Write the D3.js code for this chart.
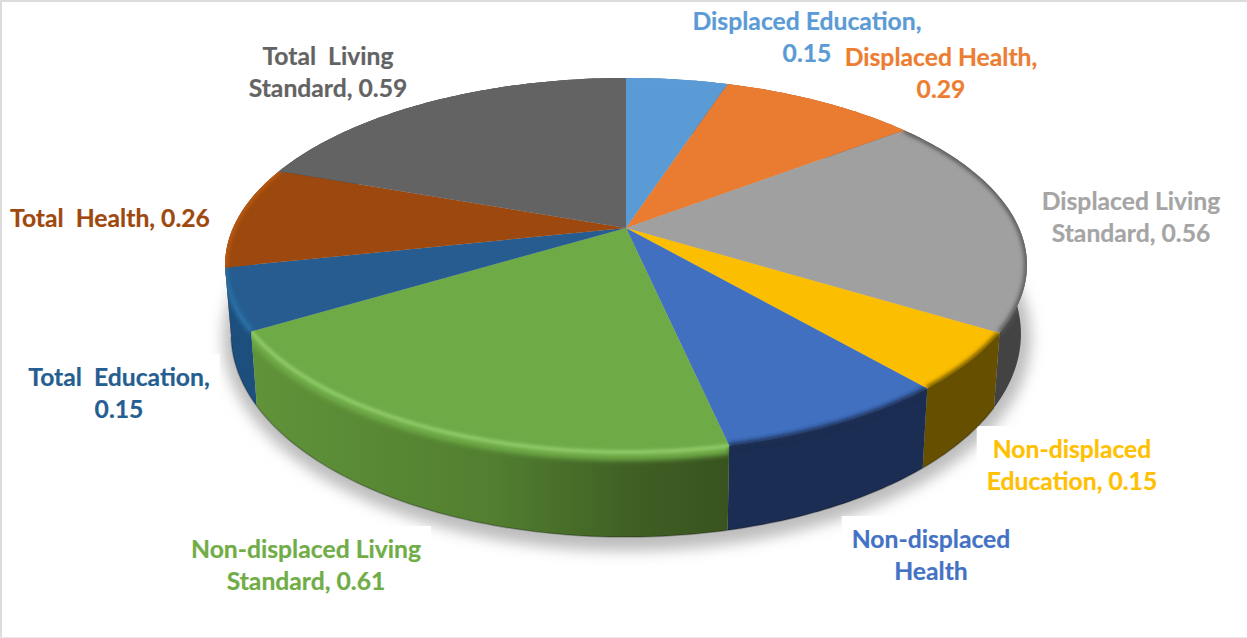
<!DOCTYPE html>
<html><head><meta charset="utf-8">
<script src="https://cdn.jsdelivr.net/npm/d3@7"></script>
<style>html,body{margin:0;padding:0;background:#fff;overflow:hidden}svg{display:block}text{white-space:pre}</style>
</head><body><svg id="c" width="1247" height="638"></svg>
<script>
// data
const categories=["Displaced Education","Displaced Health","Displaced Living Standard","Non-displaced Education","Non-displaced Health","Non-displaced Living Standard","Total  Education","Total  Health","Total  Living Standard"];
const values=[0.15,0.29,0.56,0.15,0.26,0.61,0.15,0.26,0.59];
const labelLines=[["Displaced Education,","0.15"],["Displaced Health,","0.29"],["Displaced Living","Standard, 0.56"],["Non-displaced","Education, 0.15"],["Non-displaced","Health"],["Non-displaced Living","Standard, 0.61"],["Total  Education,","0.15"],["Total  Health, 0.26"],["Total  Living","Standard, 0.59"]];
// styles
const topColors=["#5b9bd5","#e97c30","#a0a0a0","#fcbe00","#4170c0","#6eab47","#265c8f","#9c480e","#636363"];
const wallColors=["#35608a","#8a4a1c","#434343","#665000","#1b2d52","url(#gGreen)","#1c4f7e","#b55a12","#3c3c3c"];
const rimColors=["#5b9bd5","#e97c30","#555555","#665000","#1b2d52","#6eab47","#2a72a8","#bd5c12","#636363"];
const labelAnchor=[[807,30],[941,66],[1131,210],[1072,458],[931,548],[306,558],[119,386],[110,227],[328,65]];
const labelColors=["#5b9bd5","#ed7d31","#a5a5a5","#ffc000","#4472c4","#70ad47","#255e91","#9e480e","#636363"];
const lineH=32, fontSize=24.7;

const svg=d3.select("#c");
const defs=svg.append("defs");
const blur=(id,s)=>defs.append("filter").attr("id",id).attr("filterUnits","userSpaceOnUse").attr("x",0).attr("y",0).attr("width",1247).attr("height",638).append("feGaussianBlur").attr("stdDeviation",s);
blur("b8",7);blur("b2",2);blur("b3",2.5);blur("b1",1.5);
const g=defs.append("linearGradient").attr("id","gGreen").attr("gradientUnits","userSpaceOnUse").attr("x1",250).attr("x2",730).attr("y1",0).attr("y2",0);
[[0,"#60933a"],[.5,"#527f30"],[.8,"#3f5f24"],[1,"#38531f"]].forEach(s=>g.append("stop").attr("offset",s[0]).attr("stop-color",s[1]));

// projection of the tilted disc, with a small view correction on the front half
const cx=626,cy=228,A=393,B=179.7,p=0.198,rad=Math.PI/180,warp=2.5*rad;
const corrected=t=>{
  if(t>90*rad&&t<=164*rad) return t+warp*Math.sin(Math.PI*(t-90*rad)/(74*rad));
  if(t>164*rad&&t<270*rad) return t-warp*Math.sin(Math.PI*(t-164*rad)/(106*rad));
  return t;
};
const topPt=t0=>{const t=corrected(t0);const u=Math.sin(t),v=-Math.cos(t),d=1-p*v;return [cx+A*u/d,cy+B*v/d];};
const ey=265,ery=187,erx=401,by=334,bry=203,brx=395;
const botPt=t=>{const q=topPt(t);return [cx+(q[0]-cx)*brx/erx,by+(q[1]-ey)*bry/ery];};
const line=d3.line();
const arcs=d3.pie().sort(null).startAngle(0).endAngle(2*Math.PI)(values);
const samples=a=>{const n=Math.max(8,Math.ceil((a.endAngle-a.startAngle)*60));return d3.range(n+1).map(i=>a.startAngle+(a.endAngle-a.startAngle)*i/n);};
arcs.forEach((a,i)=>{a.i=i;a.ts=samples(a);a.topArc=a.ts.map(topPt);a.botArc=a.ts.map(botPt);
  a.topPath=line([[cx,cy],...a.topArc])+"Z";
  a.wallPath=line([...a.topArc,...a.botArc.slice().reverse()])+"Z";
  a.rimPath=line(a.topArc);
  a.depth=d3.max(a.ts,t=>-Math.cos(t));
});

// shadow
svg.append("ellipse").attr("cx",cx+1).attr("cy",by+4).attr("rx",brx+9).attr("ry",bry+10).attr("fill","#bdbdbd").attr("filter","url(#b8)");

// label boxes and labels placed after measuring
const boxes=svg.append("g"), border=svg.append("g"), pie=svg.append("g"), texts=svg.append("g");

// border
border.append("path").attr("d","M1,638V1H1247").attr("fill","none").attr("stroke","#dcdcdc").attr("stroke-width",2);
border.append("path").attr("d","M0,637.5H1247").attr("fill","none").attr("stroke","#e8e8e8");

const order=arcs.slice().sort((a,b)=>a.depth-b.depth);
arcs.forEach(a=>defs.append("clipPath").attr("id","cl"+a.i).call(c=>{c.append("path").attr("d",a.topPath);c.append("path").attr("d",a.wallPath);}));
order.forEach(a=>pie.append("path").attr("d",a.wallPath).attr("fill",wallColors[a.i]));
// bottom dark edge on the front
order.forEach(a=>{ if(a.i>=3&&a.i<=6) pie.append("path").attr("d",line(a.botArc)).attr("fill","none").attr("stroke","#000").attr("stroke-opacity",.25).attr("stroke-width",1.5);});
arcs.forEach(a=>pie.append("path").attr("d",a.topPath).attr("fill",topColors[a.i]));
arcs.forEach(a=>{const gg=pie.append("g").attr("clip-path",`url(#cl${a.i})`);
  if(a.i===5){
    gg.append("path").attr("d",a.rimPath).attr("fill","none").attr("stroke",topColors[5]).attr("stroke-width",13).attr("filter","url(#b3)").attr("transform","translate(0,2)");
    gg.append("path").attr("d",a.rimPath).attr("fill","none").attr("stroke","#8fcb68").attr("stroke-width",4).attr("filter","url(#b1)");
  } else {
    gg.append("path").attr("d",a.rimPath).attr("fill","none").attr("stroke",rimColors[a.i]).attr("stroke-width",5).attr("filter","url(#b2)");
  }
});

labelLines.forEach((ls,i)=>{
  const t=texts.append("text").attr("fill",labelColors[i]).attr("stroke",labelColors[i]).attr("stroke-width",.2).attr("font-family","Lato").attr("font-weight",700).attr("font-size",fontSize).attr("text-anchor","middle");
  ls.forEach((s,j)=>t.append("tspan").attr("x",labelAnchor[i][0]).attr("y",labelAnchor[i][1]+j*lineH).text(s));
  const b=t.node().getBBox();
  boxes.append("rect").attr("x",b.x-10).attr("y",b.y-8).attr("width",b.width+20).attr("height",b.height+12).attr("fill","#fff");
});
</script></body></html>
